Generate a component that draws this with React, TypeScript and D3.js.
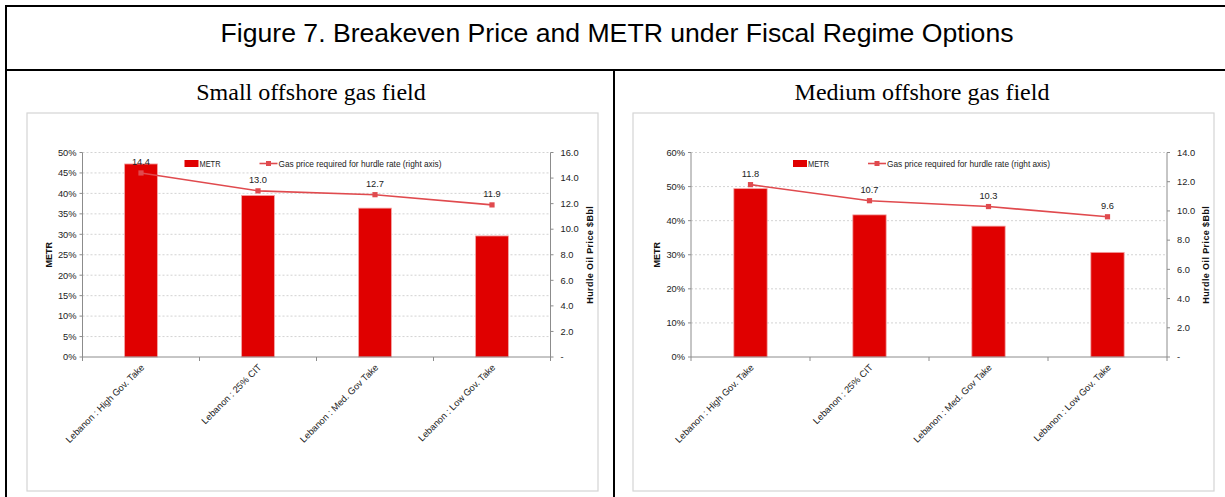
import React from 'react';
import * as d3 from 'd3';

const categories = [
  'Lebanon : High Gov. Take',
  'Lebanon : 25% CIT',
  'Lebanon : Med. Gov Take',
  'Lebanon : Low Gov. Take',
];
const smallMetr = [0.472, 0.395, 0.364, 0.296];
const smallPrice = [14.4, 13.0, 12.7, 11.9];
const mediumMetr = [0.494, 0.417, 0.384, 0.307];
const mediumPrice = [11.8, 10.7, 10.3, 9.6];
const smallLeftTicks = [0, 0.05, 0.1, 0.15, 0.2, 0.25, 0.3, 0.35, 0.4, 0.45, 0.5];
const smallRightTicks = [0, 2, 4, 6, 8, 10, 12, 14, 16];
const mediumLeftTicks = [0, 0.1, 0.2, 0.3, 0.4, 0.5, 0.6];
const mediumRightTicks = [0, 2, 4, 6, 8, 10, 12, 14];

const SANS = 'Liberation Sans, Arial, sans-serif';
const SERIF = 'Liberation Serif, Times New Roman, serif';
const BAR = '#e00000';
const LINE = '#e04a4e';
const AXIS = '#8c8c8c';
const GRID = '#c8c8c8';

type PanelProps = {
  title: string;
  titleX: number;
  box: [number, number];
  x0: number;
  x1: number;
  metr: number[];
  price: number[];
  leftTicks: number[];
  rightTicks: number[];
};

const Panel: React.FC<PanelProps> = ({ title, titleX, box, x0, x1, metr, price, leftTicks, rightTicks }) => {
  const top = 152.5;
  const bottom = 357;
  const x = d3.scaleBand<string>().domain(categories).range([x0, x1]).padding(0);
  const yL = d3.scaleLinear().domain([0, d3.max(leftTicks)!]).range([bottom, top]);
  const yR = d3.scaleLinear().domain([0, d3.max(rightTicks)!]).range([bottom, top]);
  const bw = x.bandwidth() * 0.28;
  const cx = (c: string) => x(c)! + x.bandwidth() / 2;
  const line = d3.line<number>()
    .x((_, i) => cx(categories[i]))
    .y(d => yR(d));
  const pct = d3.format('.0%');
  const legY = top + 11;

  return (
    <g fontFamily={SANS}>
      <text x={titleX} y={100} textAnchor="middle" fontFamily={SERIF} fontSize={24} fill="#000">{title}</text>
      <rect x={box[0]} y={113} width={box[1] - box[0]} height={378} fill="#fff" stroke="#d4d4d4" strokeWidth={1.2} />

      {leftTicks.slice(1).map(t => (
        <line key={'g' + t} x1={x0} x2={x1} y1={yL(t)} y2={yL(t)} stroke={GRID} strokeWidth={0.8} strokeDasharray="2,2" />
      ))}

      {categories.map((c, i) => (
        <rect key={c} x={cx(c) - bw / 2} y={yL(metr[i])} width={bw} height={bottom - yL(metr[i])}
          fill={BAR} stroke="#f3a3a3" strokeWidth={0.8} />
      ))}

      <line x1={x0} x2={x0} y1={top} y2={bottom} stroke={AXIS} />
      <line x1={x1} x2={x1} y1={top} y2={bottom} stroke={AXIS} />
      <line x1={x0} x2={x1} y1={bottom} y2={bottom} stroke={AXIS} />
      {leftTicks.map(t => (
        <g key={'l' + t}>
          <line x1={x0 - 3} x2={x0} y1={yL(t)} y2={yL(t)} stroke={AXIS} />
          <text x={x0 - 6} y={yL(t) + 3.3} textAnchor="end" fontSize={9.3} fill="#222">{pct(t)}</text>
        </g>
      ))}
      {rightTicks.map(t => (
        <g key={'r' + t}>
          <line x1={x1} x2={x1 + 3} y1={yR(t)} y2={yR(t)} stroke={AXIS} />
          <text x={x1 + 10} y={yR(t) + 3.3} fontSize={9.3} fill="#222">{t === 0 ? '-' : t.toFixed(1)}</text>
        </g>
      ))}
      {d3.range(categories.length + 1).map(i => {
        const xx = x0 + i * x.bandwidth();
        return <line key={'b' + i} x1={xx} x2={xx} y1={bottom} y2={bottom + 4} stroke={AXIS} />;
      })}

      {categories.map(c => (
        <text key={'xl' + c} transform={`translate(${cx(c) + 4},${bottom + 11}) rotate(-45)`}
          textAnchor="end" fontSize={9.3} fill="#222">{c}</text>
      ))}

      <text transform={`translate(${x0 - 31},${(top + bottom) / 2}) rotate(-90)`} textAnchor="middle"
        fontSize={9} fontWeight="bold" fill="#111">METR</text>
      <text transform={`translate(${x1 + 42},${(top + bottom) / 2}) rotate(-90)`} textAnchor="middle"
        fontSize={9} fontWeight="bold" letterSpacing={0.4} fill="#111">Hurdle Oil Price $Bbl</text>

      <path d={line(price)!} fill="none" stroke={LINE} strokeWidth={1.6} />
      {price.map((p, i) => (
        <g key={'p' + i}>
          <rect x={cx(categories[i]) - 2.6} y={yR(p) - 2.6} width={5.2} height={5.2} fill={LINE} />
          <text x={cx(categories[i])} y={yR(p) - 8} textAnchor="middle" fontSize={9.3} fill="#222">{p.toFixed(1)}</text>
        </g>
      ))}

      <rect x={x0 + 102} y={legY - 3.5} width={14} height={7} fill={BAR} />
      <text x={x0 + 117} y={legY + 3} fontSize={8.2} fill="#222" textLength={21} lengthAdjust="spacingAndGlyphs">METR</text>
      <line x1={x0 + 177} x2={x0 + 195} y1={legY} y2={legY} stroke={LINE} strokeWidth={1.6} />
      <rect x={x0 + 183.5} y={legY - 2.5} width={5} height={5} fill={LINE} />
      <text x={x0 + 196} y={legY + 3} fontSize={8.2} fill="#222" textLength={163} lengthAdjust="spacingAndGlyphs">
        Gas price required for hurdle rate (right axis)
      </text>
    </g>
  );
};

const App: React.FC = () => {
  return (
    <svg width={1225} height={497} style={{ position: 'absolute', left: 0, top: 0, background: '#fff' }}>
      <rect x={0} y={0} width={1225} height={497} fill="#fff" />
      <line x1={6} x2={1225} y1={6} y2={6} stroke="#000" strokeWidth={2} />
      <line x1={6} x2={1225} y1={70} y2={70} stroke="#000" strokeWidth={2} />
      <line x1={6} x2={6} y1={5} y2={497} stroke="#000" strokeWidth={2} />
      <line x1={614} x2={614} y1={70} y2={497} stroke="#000" strokeWidth={2} />
      <text x={617} y={42} textAnchor="middle" fontFamily={SANS} fontSize={25} fill="#000"
        textLength={793} lengthAdjust="spacingAndGlyphs">
        Figure 7. Breakeven Price and METR under Fiscal Regime Options
      </text>
      <Panel title="Small offshore gas field" titleX={311} box={[27, 598]} x0={82.5} x1={550.5}
        metr={smallMetr} price={smallPrice} leftTicks={smallLeftTicks} rightTicks={smallRightTicks} />
      <Panel title="Medium offshore gas field" titleX={922} box={[633, 1214]} x0={691} x1={1167}
        metr={mediumMetr} price={mediumPrice} leftTicks={mediumLeftTicks} rightTicks={mediumRightTicks} />
    </svg>
  );
};

export default App;
